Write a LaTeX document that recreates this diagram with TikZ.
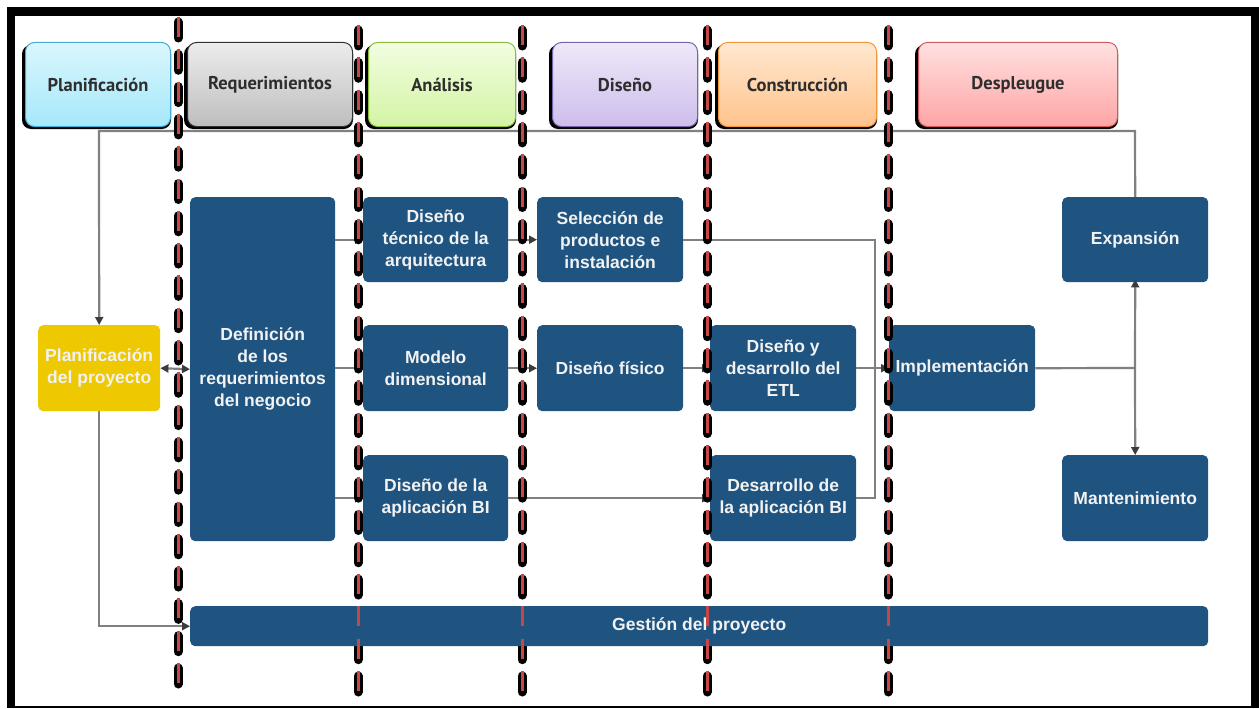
\documentclass[tikz,border=0pt]{standalone}
\usepackage{fontspec}
\usetikzlibrary{arrows.meta}
\newfontfamily\headfont{PT Sans}
\newfontfamily\boxfont{Liberation Sans}
\definecolor{kblue}{RGB}{31,83,128}
\definecolor{kyellow}{RGB}{238,200,0}
\definecolor{kline}{RGB}{128,128,128}
\definecolor{ktip}{RGB}{60,60,60}
\definecolor{kred}{RGB}{200,70,70}
% header palettes: border, top, bottom
\definecolor{pBd}{RGB}{70,170,210}   \definecolor{pTop}{RGB}{218,246,253} \definecolor{pBot}{RGB}{165,232,250}
\definecolor{rBd}{RGB}{50,50,50}     \definecolor{rTop}{RGB}{236,236,236} \definecolor{rBot}{RGB}{190,190,190}
\definecolor{aBd}{RGB}{140,190,60}   \definecolor{aTop}{RGB}{242,253,224} \definecolor{aBot}{RGB}{212,244,165}
\definecolor{dBd}{RGB}{120,100,170}  \definecolor{dTop}{RGB}{238,232,249} \definecolor{dBot}{RGB}{205,190,235}
\definecolor{cBd}{RGB}{240,150,60}   \definecolor{cTop}{RGB}{255,232,208} \definecolor{cBot}{RGB}{255,195,140}
\definecolor{eBd}{RGB}{210,90,90}    \definecolor{eTop}{RGB}{255,224,224} \definecolor{eBot}{RGB}{255,165,165}
\tikzset{
  header/.style={draw=#1, line width=1pt, rounded corners=9pt, anchor=north west,
    inner sep=0pt, font=\headfont\bfseries\fontsize{18.5}{22}\selectfont, text=black!82},
  task/.style={fill=kblue, rounded corners=5pt, anchor=north west, inner sep=0pt,
    align=center, text=white!95!black, font=\boxfont\bfseries\fontsize{17.5}{22}\selectfont},
  conn/.style={draw=kline, line width=2.2pt},
  arr/.style={-{Triangle[length=8pt,width=8pt,color=ktip]}},
  darr/.style={{Triangle[length=8pt,width=8pt,color=ktip]}-{Triangle[length=8pt,width=8pt,color=ktip]}},
  blackdash/.style={line width=9pt, line cap=round, dash pattern=on 16pt off 16.3pt},
  reddash/.style={draw=kred, line width=3pt, dash pattern=on 20pt off 12.3pt}
}
\begin{document}
\begin{tikzpicture}[x=1pt,y=-1pt]
\useasboundingbox (0,0) rectangle (1259,709);
% outer frame
\fill[black] (7,7) rectangle (1259,708);
\fill[white] (15,16) rectangle (1251,706);

% phase headers: black drop shadow, then shaded box
\foreach \xa/\xb in {25/170,187/352,368/515,552/697,718/876,918/1117}
  \fill[black, rounded corners=9pt] (\xa-3,45) rectangle (\xb+1,129);
\node[header=pBd, top color=pTop, bottom color=pBot, minimum width=145pt, minimum height=84pt] (hPlan) at (25,42) {Planificación};
\node[header=rBd, top color=rTop, bottom color=rBot, minimum width=165pt, minimum height=84pt] (hReq) at (187,42) {Requerimientos};
\node[header=aBd, top color=aTop, bottom color=aBot, minimum width=147pt, minimum height=84pt] (hAna) at (368,42) {Análisis};
\node[header=dBd, top color=dTop, bottom color=dBot, minimum width=145pt, minimum height=84pt] (hDis) at (552,42) {Diseño};
\node[header=cBd, top color=cTop, bottom color=cBot, minimum width=158pt, minimum height=84pt] (hCon) at (718,42) {Construcción};
\node[header=eBd, top color=eTop, bottom color=eBot, minimum width=199pt, minimum height=84pt] (hDes) at (918,42) {Despleugue};

% task boxes
\node[task, fill=kyellow, minimum width=122pt, minimum height=86pt] (plan) at (38,325) {Planificación\\del proyecto};
\node[task, minimum width=145pt, minimum height=344pt] (defreq) at (190,197) {Definición\\de los\\requerimientos\\del negocio};
\node[task, minimum width=145pt, minimum height=85pt] (dtec) at (363,197) {Diseño\\técnico de la\\arquitectura};
\node[task, minimum width=146pt, minimum height=85pt] (selprod) at (537,197) {Selección de\\productos e\\instalación};
\node[task, minimum width=146pt, minimum height=85pt] (expan) at (1062,197) {Expansión};
\node[task, minimum width=145pt, minimum height=86pt] (modelo) at (363,325) {Modelo\\dimensional};
\node[task, minimum width=146pt, minimum height=86pt] (disfis) at (537,325) {Diseño físico};
\node[task, minimum width=146pt, minimum height=86pt] (etl) at (710,325) {Diseño y\\desarrollo del\\ETL};
\node[task, minimum width=146pt, minimum height=86pt] (impl) at (889,325) {Implementación};
\node[task, minimum width=145pt, minimum height=86pt] (dapp) at (363,455) {Diseño de la\\aplicación BI};
\node[task, minimum width=146pt, minimum height=86pt] (desapp) at (710,455) {Desarrollo de\\la aplicación BI};
\node[task, minimum width=146pt, minimum height=86pt] (mant) at (1062,455) {Mantenimiento};

% connectors
\coordinate (tl) at (99,131);
\coordinate (tr) at (1135,131);
\coordinate (j) at (875,368);
\coordinate (k) at (1135,368);
\draw[conn, arr] (expan.north) -- (tr) -- (tl) -- (plan.north);
\draw[conn, arr] (defreq.east |- dtec.west) -- (dtec.west);
\draw[conn, arr] (defreq.east |- modelo.west) -- (modelo.west);
\draw[conn, arr] (defreq.east |- dapp.west) -- (dapp.west);
\draw[conn, arr] (dtec) -- (selprod);
\draw[conn, arr] (modelo) -- (disfis);
\draw[conn, arr] (disfis) -- (etl);
\draw[conn, arr] (dapp) -- (desapp);
\draw[conn] (selprod.east) -| (j) |- (desapp.east);
\draw[conn, arr] (etl) -- (impl);
\draw[conn] (impl.east) -- (k);
\draw[conn, arr, shorten >=-3pt] (k) -- (expan.south);
\draw[conn, arr] (k) -- (mant.north);

% phase separators (black part)
\foreach \x/\ya in {178/22,358/30,522/30,707/30,888/30}
  \draw[blackdash] (\x,\ya) -- (\x,697);

% project management bar
\node[task, minimum width=1018pt, minimum height=40pt] (gestion) at (190,606) {Gestión del proyecto};
\draw[conn, arr] (plan.south) |- (gestion.west);
\draw[conn, darr] (plan.east) -- (defreq.west);

% phase separators (red core)
\foreach \x/\ya in {178/22,358/30,522/30,707/30,888/30}
  \draw[reddash] (\x,\ya-5) -- (\x,692);
\end{tikzpicture}
\end{document}
